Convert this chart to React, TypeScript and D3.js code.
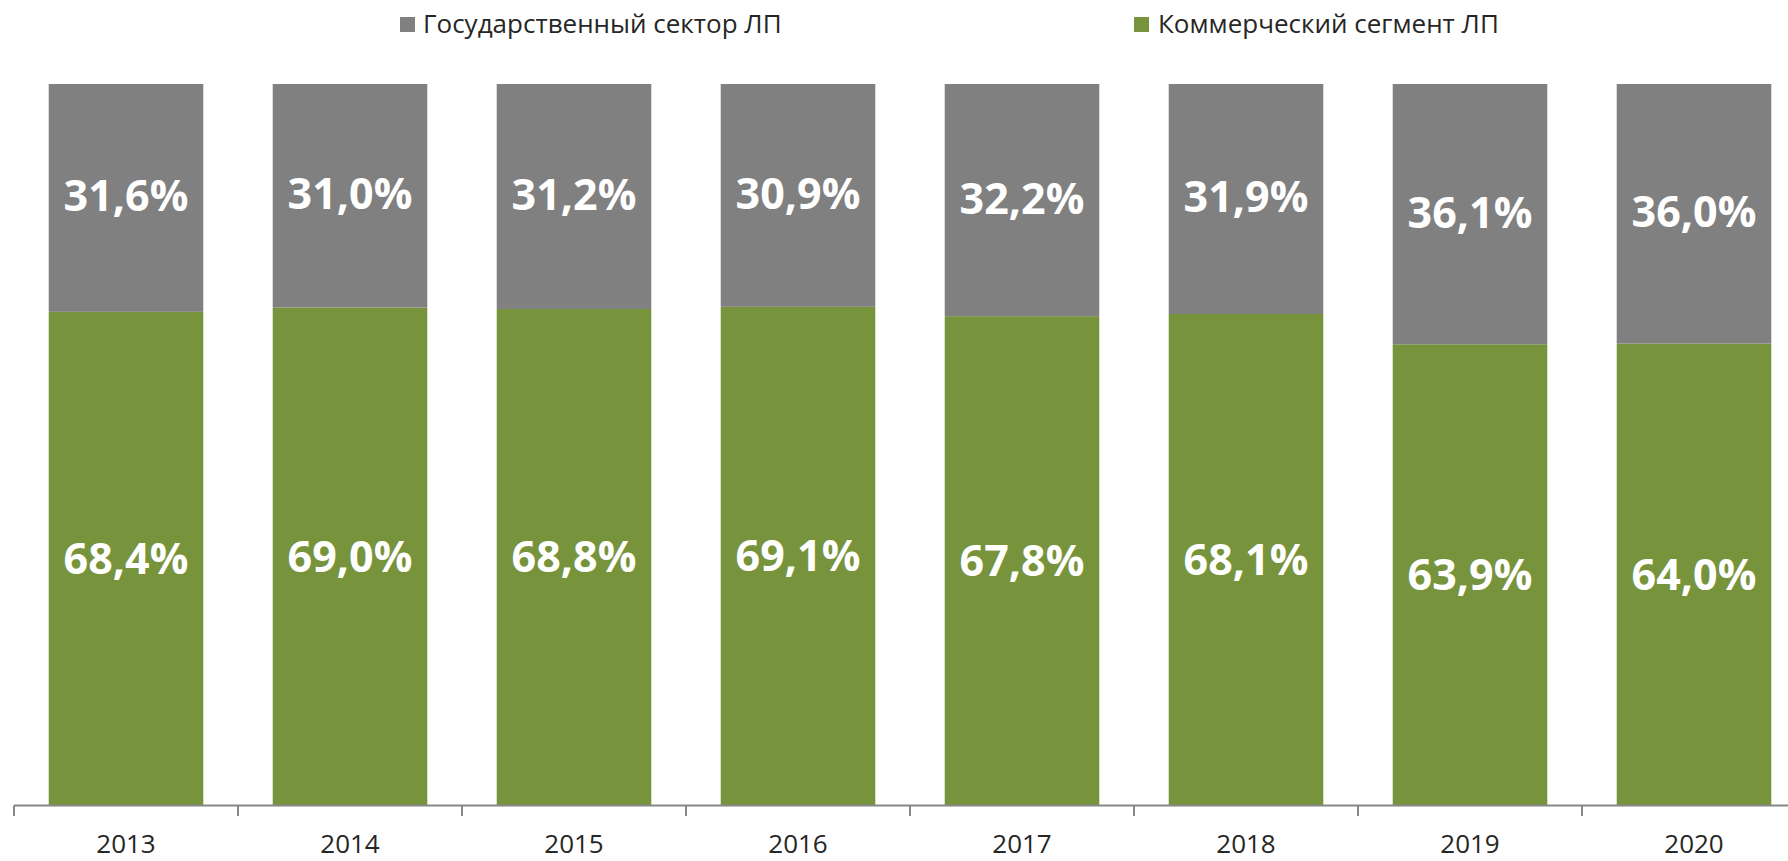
import React from "react";
import * as d3 from "d3";

const years = ["2013", "2014", "2015", "2016", "2017", "2018", "2019", "2020"];
const commercial = [68.4, 69.0, 68.8, 69.1, 67.8, 68.1, 63.9, 64.0];
const government = [31.6, 31.0, 31.2, 30.9, 32.2, 31.9, 36.1, 36.0];
const seriesNames = ["Государственный сектор ЛП", "Коммерческий сегмент ЛП"];

const W = 1788;
const H = 861;
const GRAY = "#808080";
const GREEN = "#77933c";
const FONT = "'Open Sans', 'Noto Sans', sans-serif";

const fmt = (v: number) => v.toFixed(1).replace(".", ",") + "%";

export default function App() {
  const x = d3
    .scaleBand<string>()
    .domain(years)
    .range([14, 14 + 224 * years.length])
    .paddingInner(0.31)
    .paddingOuter(0.155);
  const y = d3.scaleLinear().domain([0, 100]).range([805, 84]);
  const step = x.step();
  const axisY = 805.5;
  const tickXs = d3.range(years.length + 1).map((i) => 14 + i * step);

  return (
    <svg
      width={W}
      height={H}
      style={{ position: "absolute", left: 0, top: 0, background: "#fff" }}
      fontFamily={FONT}
    >
      {/* legend */}
      <rect x={400} y={17} width={15} height={15} fill={GRAY} />
      <text x={423} y={33} fontSize={26} fill="#262626">
        {seriesNames[0]}
      </text>
      <rect x={1134} y={17} width={15} height={15} fill={GREEN} />
      <text x={1158} y={33} fontSize={26} fill="#262626">
        {seriesNames[1]}
      </text>

      {years.map((yr, i) => {
        const x0 = x(yr)!;
        const bw = x.bandwidth();
        const c = commercial[i];
        const g = government[i];
        const yC = y(c);
        const yT = y(c + g);
        return (
          <g key={yr}>
            <rect x={x0} y={yC} width={bw} height={y(0) - yC} fill={GREEN} />
            <rect x={x0} y={yT} width={bw} height={yC - yT} fill={GRAY} />
            <text
              x={x0 + bw / 2}
              y={(yC + y(0)) / 2 + 4}
              textAnchor="middle"
              dominantBaseline="middle"
              fontSize={43}
              fontWeight="bold"
              fill="#fff"
            >
              {fmt(c)}
            </text>
            <text
              x={x0 + bw / 2}
              y={(yT + yC) / 2 + 2}
              textAnchor="middle"
              dominantBaseline="middle"
              fontSize={43}
              fontWeight="bold"
              fill="#fff"
            >
              {fmt(g)}
            </text>
            <text
              x={x0 + bw / 2}
              y={853}
              textAnchor="middle"
              fontSize={26}
              fill="#262626"
            >
              {yr}
            </text>
          </g>
        );
      })}

      {/* axis */}
      <line x1={14} x2={W} y1={axisY} y2={axisY} stroke="#868686" strokeWidth={2} />
      {tickXs.map((tx, i) => (
        <line key={i} x1={tx} x2={tx} y1={axisY} y2={816} stroke="#868686" strokeWidth={2} />
      ))}
    </svg>
  );
}
